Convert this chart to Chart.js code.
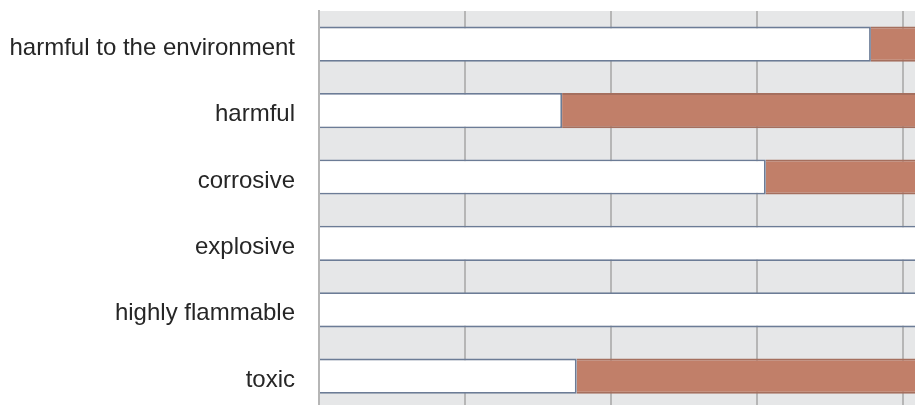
<!DOCTYPE html>
<html>
<head>
<meta charset="utf-8">
<script src="https://cdn.jsdelivr.net/npm/chart.js@4"></script>
<style>
    html, body { margin: 0; padding: 0; overflow: hidden; background: #ffffff; }
    #wrap { width: 915px; height: 405px; overflow: hidden; }
</style>
</head>
<body>
<div id="wrap">
    <canvas id="hazard-chart" width="1060" height="420"></canvas>
</div>
<script>
// hazard labels and the two shares per label (percent, stacked to 100)
const categories = ['harmful to the environment', 'harmful', 'corrosive', 'explosive', 'highly flammable', 'toxic'];
const firstShare = [75.6, 33.3, 61.2, 100, 100, 35.3];
const secondShare = [24.4, 66.7, 38.8, 0, 0, 64.7];

// grey panel behind the bars
const plotBackground = {
    id: 'plotBackground',
    beforeDraw(chart) {
        const { ctx, chartArea } = chart;
        ctx.save();
        ctx.fillStyle = '#e6e7e8';
        ctx.fillRect(chartArea.left, chartArea.top, chartArea.right - chartArea.left, chartArea.bottom - chartArea.top);
        ctx.restore();
    }
};

const ctx = document.getElementById('hazard-chart').getContext('2d');

new Chart(ctx, {
    type: 'bar',
    data: {
        labels: categories,
        datasets: [{
            label: 'first',
            data: firstShare,
            backgroundColor: '#ffffff',
            borderColor: '#6c7c96',
            borderWidth: 1.8
        }, {
            label: 'second',
            data: secondShare,
            backgroundColor: '#c17f69',
            borderColor: '#a56f5e',
            borderWidth: 2
        }]
    },
    options: {
        indexAxis: 'y',
        responsive: false,
        animation: false,
        devicePixelRatio: 1,
        datasets: {
            bar: { categoryPercentage: 1, barPercentage: 0.53 }
        },
        layout: {
            padding: { top: 11, right: 11, bottom: 10.6, left: 0 }
        },
        plugins: {
            legend: { display: false },
            tooltip: { enabled: false }
        },
        scales: {
            x: {
                stacked: true,
                min: 0,
                max: 100,
                afterFit(scale) {
                    scale.height = 0;
                    scale.paddingLeft = 0;
                    scale.paddingRight = 0;
                },
                ticks: { display: false, stepSize: 20 },
                grid: { color: '#b6b6b6', lineWidth: 2, drawTicks: false },
                border: { display: false }
            },
            y: {
                stacked: true,
                afterFit(scale) {
                    scale.width = 319;
                    scale.paddingTop = 0;
                    scale.paddingBottom = 0;
                },
                ticks: {
                    padding: 24,
                    labelOffset: 4,
                    color: '#262626',
                    font: { family: "'Liberation Sans', Arial, sans-serif", size: 24 }
                },
                grid: { display: false, drawTicks: false },
                border: { display: true, color: '#b6b6b6', width: 2 }
            }
        }
    },
    plugins: [plotBackground]
});
</script>
</body>
</html>
